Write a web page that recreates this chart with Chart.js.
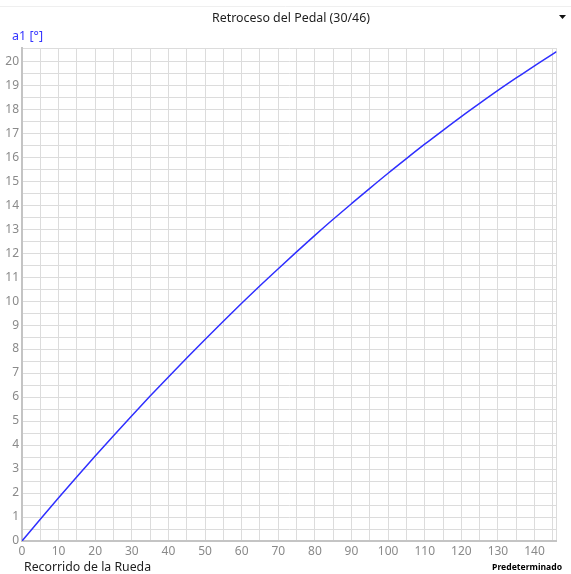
<!DOCTYPE html>
<html>
<head>
<meta charset="utf-8">
<script src="https://cdn.jsdelivr.net/npm/chart.js@4/dist/chart.umd.min.js"></script>
<style>
  html, body { margin: 0; padding: 0; background: #fff; }
  #wrap { position: relative; width: 571px; height: 574px; }
</style>
</head>
<body>
<div id="wrap"><canvas id="c" width="571" height="574"></canvas></div>
<script>
// Wheel travel (x) and pedal kickback angle a1 in degrees (y)
const travel = [0, 5, 10, 15, 20, 25, 30, 35, 40, 45, 50, 55, 60, 65, 70, 75,
                80, 85, 90, 95, 100, 105, 110, 115, 120, 125, 130, 135, 140, 146];
const angle  = [0, 0.91, 1.80, 2.68, 3.54, 4.39, 5.22, 6.04, 6.84, 7.63, 8.40, 9.16,
                9.91, 10.64, 11.35, 12.05, 12.74, 13.41, 14.06, 14.70, 15.33, 15.94,
                16.54, 17.12, 17.69, 18.24, 18.78, 19.30, 19.81, 20.40];

// Axis ranges and grid lines (labels only on whole steps)
const xMin = 0, xMax = 146;
const yMin = 0, yMax = 20.55;
const xGrid = [0, 5, 10, 15, 20, 25, 30, 35, 40, 45, 50, 55, 60, 65, 70, 75, 80, 85,
               90, 95, 100, 105, 110, 115, 120, 125, 130, 135, 140, 145, 146];
const yGrid = [0, 0.5, 1, 1.5, 2, 2.5, 3, 3.5, 4, 4.5, 5, 5.5, 6, 6.5, 7, 7.5, 8, 8.5,
               9, 9.5, 10, 10.5, 11, 11.5, 12, 12.5, 13, 13.5, 14, 14.5, 15, 15.5,
               16, 16.5, 17, 17.5, 18, 18.5, 19, 19.5, 20, 20.55];
const xLabelEvery = 10;
const yLabelEvery = 1;

const titleText = 'Retroceso del Pedal (30/46)';
const yTitle = 'a1 [°]';
const xTitle = 'Recorrido de la Rueda';
const presetText = 'Predeterminado';

const FONT = '"Noto Sans", "Open Sans", sans-serif';

const decorations = {
  id: 'decorations',
  afterDraw(chart) {
    const ctx = chart.ctx;
    ctx.save();
    // faint top separator
    ctx.strokeStyle = '#efefef';
    ctx.lineWidth = 1;
    ctx.beginPath(); ctx.moveTo(0, 6.5); ctx.lineTo(571, 6.5); ctx.stroke();

    ctx.textBaseline = 'alphabetic';
    ctx.fillStyle = '#1e1e1e';
    ctx.font = '12.4px ' + FONT;
    ctx.textAlign = 'center';
    ctx.fillText(titleText, 291, 22);

    // dropdown arrow
    ctx.fillStyle = '#111';
    ctx.beginPath(); ctx.moveTo(559, 15); ctx.lineTo(566, 15); ctx.lineTo(562.5, 19); ctx.closePath(); ctx.fill();

    ctx.textAlign = 'left';
    ctx.fillStyle = '#3535ff';
    ctx.font = '12.5px ' + FONT;
    ctx.fillText(yTitle, 12, 40);

    ctx.fillStyle = '#1e1e1e';
    ctx.font = '12.3px ' + FONT;
    ctx.fillText(xTitle, 24, 571);

    ctx.fillStyle = '#000';
    ctx.font = 'bold 8.6px ' + FONT;
    ctx.textAlign = 'right';
    ctx.fillText(presetText, 562, 570);
    ctx.restore();
  }
};

new Chart(document.getElementById('c'), {
  type: 'line',
  data: {
    datasets: [{
      data: travel.map((x, i) => ({ x: x, y: angle[i] })),
      borderColor: '#2f2fff',
      borderWidth: 1.5,
      pointRadius: 0,
      fill: false,
      cubicInterpolationMode: 'monotone'
    }]
  },
  options: {
    responsive: false,
    animation: false,
    devicePixelRatio: 1,
    layout: { autoPadding: false, padding: { left: 0, top: 48, right: 14.5, bottom: 0 } },
    plugins: { legend: { display: false }, tooltip: { enabled: false }, title: { display: false } },
    scales: {
      x: {
        type: 'linear', min: xMin, max: xMax,
        afterBuildTicks: s => { s.ticks = xGrid.map(v => ({ value: v })); },
        afterFit: s => { s.height = 33; },
        grid: { color: '#dcdcdc', lineWidth: 1, drawTicks: false },
        border: { color: '#c4c4c4', width: 2 },
        ticks: {
          autoSkip: false, maxRotation: 0, padding: 3,
          color: '#8a8a8a', font: { family: FONT, size: 12 },
          callback: v => (v % xLabelEvery === 0 ? String(v) : '')
        }
      },
      y: {
        type: 'linear', min: yMin, max: yMax,
        afterBuildTicks: s => { s.ticks = yGrid.map(v => ({ value: v })); },
        afterFit: s => { s.width = 22; },
        grid: { color: '#dcdcdc', lineWidth: 1, drawTicks: false },
        border: { color: '#c4c4c4', width: 2 },
        ticks: {
          autoSkip: false, padding: 3,
          color: '#8a8a8a', font: { family: FONT, size: 12 },
          callback: v => (v % yLabelEvery === 0 ? String(v) : '')
        }
      }
    }
  },
  plugins: [decorations]
});
</script>
</body>
</html>
